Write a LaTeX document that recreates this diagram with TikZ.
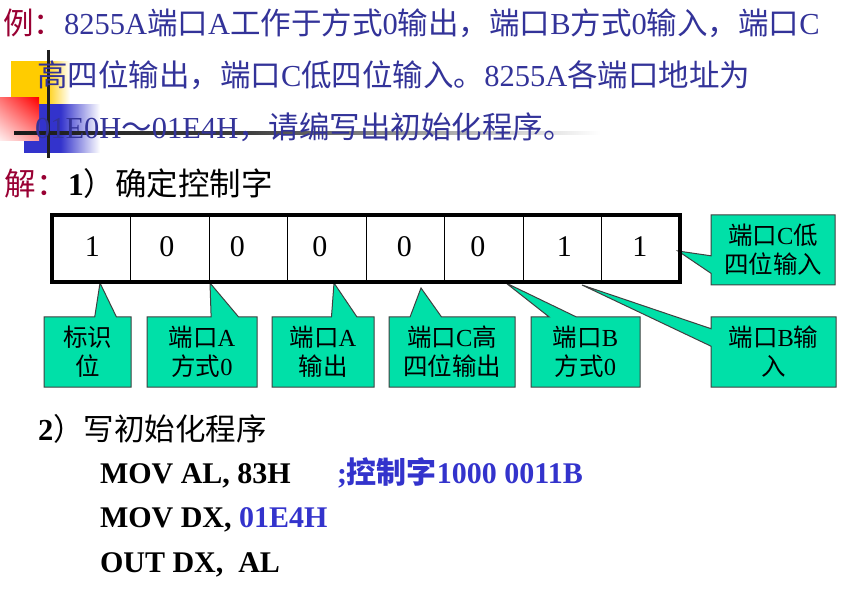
\documentclass[tikz,border=0pt]{standalone}
\usepackage{fontspec}
\setmainfont{Liberation Serif}
\newfontfamily\cjk{Noto Sans CJK SC}
\usetikzlibrary{calc,shadings}

\definecolor{probblue}{RGB}{51,51,153}
\definecolor{exred}{RGB}{153,0,51}
\definecolor{codeblue}{RGB}{51,51,204}
\definecolor{calloutfill}{RGB}{0,224,168}
\definecolor{calloutline}{RGB}{64,64,64}
\definecolor{decoyellow}{RGB}{255,204,0}
\definecolor{decoblue}{RGB}{51,51,204}

% Chinese runs are set in the CJK family
\newcommand\zh[1]{{\cjk #1}}

\pgfdeclarelayer{bg}
\pgfsetlayers{bg,main}

% fading fills for the corner ornament
\pgfdeclarehorizontalshading{rulefade}{100bp}{color(0bp)=(black!90); color(25bp)=(black!90); color(45bp)=(black!75); color(75bp)=(white); color(100bp)=(white)}
\pgfdeclarehorizontalshading{yellowfade}{100bp}{color(0bp)=(decoyellow); color(54bp)=(decoyellow); color(75bp)=(white); color(100bp)=(white)}
\pgfdeclarehorizontalshading{bluefade}{100bp}{color(0bp)=(decoblue); color(49bp)=(decoblue); color(75bp)=(white); color(100bp)=(white)}

% callout outline with the wedge on the top edge (#3,#4: base fractions along the edge)
\newcommand\wedgetop[4]{\path[callout] (#1.north west) -- ($(#1.north west)!#3!(#1.north east)$) -- (#2) -- ($(#1.north west)!#4!(#1.north east)$) -- (#1.north east) -- (#1.south east) -- (#1.south west) -- cycle;}
% callout outline with the wedge on the left edge (#3,#4: base fractions from the top)
\newcommand\wedgeleft[4]{\path[callout] (#1.north west) -- (#1.north east) -- (#1.south east) -- (#1.south west) -- ($(#1.north west)!#4!(#1.south west)$) -- (#2) -- ($(#1.north west)!#3!(#1.south west)$) -- cycle;}

\begin{document}
\begin{tikzpicture}[x=1pt,y=-1pt,
  every node/.style={inner sep=0pt, outer sep=0pt},
  bigtext/.style={anchor=base west, font=\fontsize{30.5}{36}\selectfont},
  codetext/.style={anchor=base west, font=\fontsize{30}{36}\selectfont\bfseries},
  bitcell/.style={draw, line width=0.8pt, minimum width=78.5pt, minimum height=67pt},
  digit/.style={font=\fontsize{30}{36}\selectfont},
  callouttext/.style={align=center, font=\fontsize{24.5}{29}\selectfont, minimum height=70pt},
  callout/.style={fill=calloutfill, draw=calloutline, line width=1pt, line join=miter}]

\begin{pgfonlayer}{bg}
  \fill[white] (0,0) rectangle (851,593);
\end{pgfonlayer}
\useasboundingbox (0,0) rectangle (851,593);

% corner ornament
\shade[shading=yellowfade] (11,62) rectangle (70,106);
\shade[shading=bluefade] (24,105) rectangle (100,153);
\shade[upper right=red, upper left=red!55!white, lower right=red!40!white, lower left=red!6!white] (0,98) rectangle (39,141);
\draw[line width=3pt, black!88] (48,50) -- (48,158);
\shade[shading=rulefade] (14,131.5) rectangle (600,134.5);

% problem statement
\node[bigtext, text=probblue] (line1) at (3,35) {\textcolor{exred}{\zh{例：}}8255A\zh{端口}A\zh{工作于方式}0\zh{输出，端口}B\zh{方式}0\zh{输入，端口}C};
\node[bigtext, text=probblue] (line2) at (37,87) {\zh{高四位输出，端口}C\zh{低四位输入。}8255A\zh{各端口地址为}};
\node[bigtext, text=probblue] (line3) at (35,139) {01E0H\zh{～}01E4H\zh{，请编写出初始化程序。}};

% step 1
\node[bigtext, font=\fontsize{31.5}{36}\selectfont] (step1) at (5,196) {\textcolor{exred}{\zh{解：}}{\bfseries 1}\zh{）确定控制字}};

% control word cells
\foreach \i in {1,...,8}
  \node[bitcell] (b\i) at ({52+78.5*(\i-0.5)},248.5) {};
\draw[line width=3.2pt] (b1.north west) rectangle (b8.south east);
\node[digit] (d1) at ($(b1)+(1,-1.5)$) {1};
\node[digit] (d2) at ($(b2)+(-3,-1.5)$) {0};
\node[digit] (d3) at ($(b3)+(-11,-1.5)$) {0};
\node[digit] (d4) at ($(b4)+(-7,-1.5)$) {0};
\node[digit] (d5) at ($(b5)+(-1,-1.5)$) {0};
\node[digit] (d6) at ($(b6)+(-6,-1.5)$) {0};
\node[digit] (d7) at ($(b7)+(2,-1.5)$) {1};
\node[digit] (d8) at ($(b8)+(-1,-1.5)$) {1};

% callout labels
\node[callouttext, minimum width=87pt]  (c1) at (87.5,352) {\zh{标识}\\\zh{位}};
\node[callouttext, minimum width=110pt] (c2) at (202,352) {\zh{端口}A\\\zh{方式}0};
\node[callouttext, minimum width=102pt] (c3) at (323,352) {\zh{端口}A\\\zh{输出}};
\node[callouttext, minimum width=126pt] (c4) at (452,352) {\zh{端口}C\zh{高}\\\zh{四位输出}};
\node[callouttext, minimum width=109pt] (c5) at (585.5,352) {\zh{端口}B\\\zh{方式}0};
\node[callouttext, minimum width=125pt] (c6) at (773.5,352) {\zh{端口}B\zh{输}\\\zh{入}};
\node[callouttext, minimum width=124pt] (c7) at (773,250) {\zh{端口}C\zh{低}\\\zh{四位输入}};

% wedge tips on the control word
\coordinate (a1) at (100,283);
\coordinate (a2) at (210,283);
\coordinate (a3) at (334,283);
\coordinate (a4) at (421,288);
\coordinate (a5) at (506,283);
\coordinate (a6) at (582,285);
\coordinate (a7) at (678,251);

\begin{pgfonlayer}{bg}
  \wedgetop{c1}{a1}{0.583}{0.833}
  \wedgetop{c2}{a2}{0.583}{0.833}
  \wedgetop{c3}{a3}{0.583}{0.833}
  \wedgetop{c4}{a4}{0.167}{0.417}
  \wedgetop{c5}{a5}{0.167}{0.417}
  \wedgeleft{c6}{a6}{0.167}{0.417}
  \wedgeleft{c7}{a7}{0.583}{0.833}
\end{pgfonlayer}

% step 2: program
\node[bigtext] (step2) at (38,440) {{\bfseries 2}\zh{）写初始化程序}};
\node[codetext] (code1) at (100,483) {MOV AL, 83H};
\node[codetext, text=codeblue] (note1) at (337,483) {;\zh{控制字}1000 0011B};
\node[codetext] (code2) at (100,527) {MOV DX, \textcolor{codeblue}{01E4H}};
\node[codetext] (code3) at (100,572) {OUT DX,\ \ AL};

\end{tikzpicture}
\end{document}
